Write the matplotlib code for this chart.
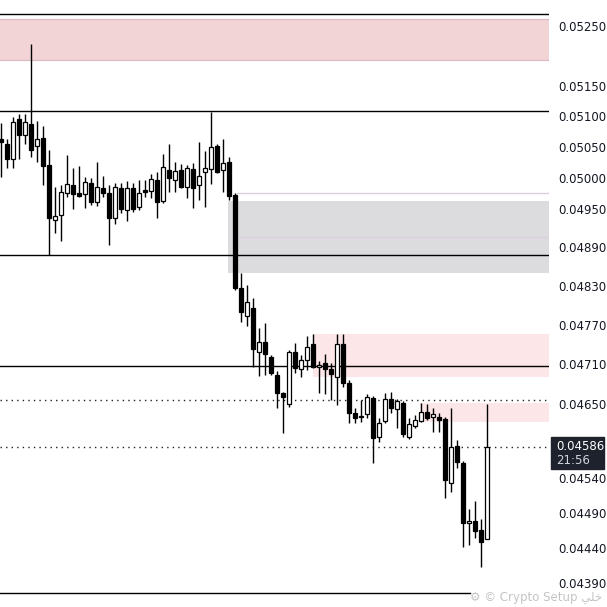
import numpy as np
import matplotlib
matplotlib.use('Agg')
import matplotlib.pyplot as plt
from matplotlib.patches import Rectangle
from matplotlib.ticker import FixedLocator, NullLocator, FormatStrFormatter, NullFormatter

# candles (open, high, low, close)
opens = [0.05063, 0.05055, 0.05030, 0.05096, 0.05070, 0.05087, 0.05052, 0.05065, 0.05021, 0.04933,
         0.04941, 0.04976, 0.04989, 0.04976, 0.04974, 0.04992, 0.04962, 0.04984, 0.04976, 0.04936,
         0.04984, 0.04949, 0.04984, 0.04954, 0.04981, 0.04979, 0.04997, 0.04963, 0.05013, 0.04997,
         0.05013, 0.04986, 0.05014, 0.04989, 0.05010, 0.05014, 0.05052, 0.05013, 0.05026, 0.04973,
         0.04826, 0.04783, 0.04795, 0.04728, 0.04743, 0.04721, 0.04693, 0.04666, 0.04650, 0.04728,
         0.04702, 0.04716, 0.04740, 0.04706, 0.04712, 0.04702, 0.04690, 0.04740, 0.04681, 0.04636,
         0.04631, 0.04635, 0.04659, 0.04601, 0.04625, 0.04657, 0.04642, 0.04651, 0.04601, 0.04617,
         0.04625, 0.04638, 0.04631, 0.04631, 0.04628, 0.04533, 0.04588, 0.04563, 0.04476, 0.04478,
         0.04466, 0.04453]
highs = [0.05089, 0.05063, 0.05099, 0.05104, 0.05104, 0.05220, 0.05092, 0.05084, 0.05045, 0.04986,
         0.04989, 0.05037, 0.05016, 0.05019, 0.05002, 0.05000, 0.05026, 0.05003, 0.04989, 0.04992,
         0.04992, 0.04995, 0.04992, 0.04997, 0.04997, 0.05006, 0.05010, 0.05039, 0.05055, 0.05026,
         0.05022, 0.05021, 0.05024, 0.05058, 0.05043, 0.05107, 0.05055, 0.05063, 0.05034, 0.04976,
         0.04850, 0.04831, 0.04811, 0.04765, 0.04772, 0.04724, 0.04699, 0.04668, 0.04731, 0.04742,
         0.04724, 0.04753, 0.04756, 0.04715, 0.04725, 0.04712, 0.04756, 0.04756, 0.04686, 0.04644,
         0.04656, 0.04665, 0.04662, 0.04629, 0.04666, 0.04668, 0.04657, 0.04654, 0.04629, 0.04634,
         0.04651, 0.04650, 0.04644, 0.04636, 0.04631, 0.04644, 0.04596, 0.04566, 0.04496, 0.04507,
         0.04481, 0.04650]
lows = [0.05002, 0.05016, 0.05016, 0.05030, 0.05055, 0.05034, 0.05026, 0.04989, 0.04878, 0.04912,
        0.04900, 0.04970, 0.04950, 0.04970, 0.04952, 0.04957, 0.04955, 0.04970, 0.04893, 0.04927,
        0.04944, 0.04931, 0.04946, 0.04949, 0.04970, 0.04968, 0.04936, 0.04960, 0.04978, 0.04978,
        0.04984, 0.04968, 0.04952, 0.04965, 0.04954, 0.04990, 0.05008, 0.04978, 0.04965, 0.04823,
        0.04774, 0.04768, 0.04706, 0.04692, 0.04693, 0.04693, 0.04644, 0.04607, 0.04645, 0.04696,
        0.04690, 0.04701, 0.04704, 0.04666, 0.04665, 0.04656, 0.04648, 0.04675, 0.04622, 0.04622,
        0.04623, 0.04629, 0.04563, 0.04593, 0.04622, 0.04636, 0.04614, 0.04601, 0.04598, 0.04614,
        0.04623, 0.04626, 0.04608, 0.04608, 0.04512, 0.04520, 0.04555, 0.04441, 0.04444, 0.04454,
        0.04413, 0.04453]
closes = [0.05058, 0.05030, 0.05091, 0.05070, 0.05091, 0.05045, 0.05063, 0.05019, 0.04936, 0.04939,
          0.04978, 0.04990, 0.04974, 0.04971, 0.04994, 0.04962, 0.04986, 0.04976, 0.04936, 0.04986,
          0.04950, 0.04984, 0.04950, 0.04976, 0.04978, 0.04998, 0.04962, 0.05018, 0.05000, 0.05011,
          0.04986, 0.05016, 0.04984, 0.05003, 0.05016, 0.05050, 0.05010, 0.05024, 0.04971, 0.04826,
          0.04789, 0.04805, 0.04733, 0.04743, 0.04725, 0.04696, 0.04666, 0.04660, 0.04728, 0.04704,
          0.04716, 0.04736, 0.04706, 0.04709, 0.04702, 0.04695, 0.04740, 0.04681, 0.04636, 0.04629,
          0.04632, 0.04660, 0.04599, 0.04622, 0.04657, 0.04644, 0.04654, 0.04605, 0.04620, 0.04626,
          0.04638, 0.04629, 0.04635, 0.04626, 0.04538, 0.04586, 0.04564, 0.04476, 0.04478, 0.04464,
          0.04448, 0.04586]

tick_values = [0.05250, 0.05150, 0.05100, 0.05050, 0.05000, 0.04950, 0.04890, 0.04830,
               0.04770, 0.04710, 0.04650, 0.04540, 0.04490, 0.04440, 0.04390]
last_price = 0.04586
countdown = '21:56'

# levels and zones
solid_levels = [0.05270, 0.05109, 0.04878, 0.04707]
bottom_level = 0.04376
dotted_levels = [0.04656, 0.04586]
supply_top = (0.05193, 0.05262)
gray_zone = (37.85, 0.04850, 0.04963)
gray_lines = [(39.35, 0.04976), (39.35, 0.04906)]
pink_zones = [(52.0, 0.04690, 0.04756), (69.85, 0.04623, 0.04651)]

o = np.array(opens); h = np.array(highs); l = np.array(lows); c = np.array(closes)
idx = np.arange(len(o))
up = c >= o

W, H = 607, 607
fig = plt.figure(figsize=(W / 100, H / 100), dpi=100)
ax = fig.add_axes([0, 0, 549 / W, 1])
ax.set_yscale('log')
x0, x1 = -0.15, 91.35
ax.set_xlim(x0, x1)
ax.set_ylim(0.043563, 0.052940)

# zones
ax.axhspan(supply_top[0], supply_top[1], color='#f2d4d7', lw=0, zorder=0)
for yv in supply_top:
    ax.axhline(yv, color='#d9b9bd', lw=0.8, zorder=0.5)
ax.fill_between([gray_zone[0], x1], gray_zone[1], gray_zone[2], color='#dcdcde', lw=0, zorder=0)
for xs, yv in gray_lines:
    ax.plot([xs, x1], [yv, yv], color='#dccfe0', lw=1, zorder=0.5)
for xs, lo, hi in pink_zones:
    ax.fill_between([xs, x1], lo, hi, color='#fde6e7', lw=0, zorder=0)

for yv in solid_levels:
    ax.axhline(yv, color='black', lw=1, zorder=1)
ax.axhline(bottom_level, xmax=470 / 549, color='black', lw=1, zorder=1)
for yv in dotted_levels:
    ax.axhline(yv, color='#222222', lw=1, ls=(0, (1, 3)), zorder=1)

# candles
ax.vlines(idx, l, h, color='black', lw=1, zorder=2)
ax.bar(idx, np.abs(c - o), bottom=np.minimum(o, c), width=0.72,
       color=np.where(up, 'white', 'black'), edgecolor='black', linewidth=0.9, zorder=3)

for s in ax.spines.values():
    s.set_visible(False)
ax.set_xticks([])
ax.yaxis.tick_right()
ax.yaxis.set_major_locator(FixedLocator(tick_values))
ax.yaxis.set_major_formatter(FormatStrFormatter('%.5f'))
ax.yaxis.set_minor_locator(NullLocator())
ax.yaxis.set_minor_formatter(NullFormatter())
ax.tick_params(axis='y', length=0, pad=7, labelsize=8.5, labelcolor='#131722')

# last price tag
fig.patches.append(Rectangle((551 / W, 1 - 469 / H), 53 / W, 32 / H,
                             transform=fig.transFigure, color='#1e222d', zorder=5))
fig.text(556 / W, 1 - 447 / H, f'{last_price:.5f}', color='white', fontsize=8.5,
         va='center', ha='left', zorder=6)
fig.text(556 / W, 1 - 461 / H, countdown, color='#d1d4dc', fontsize=8.5,
         va='center', ha='left', zorder=6)

# watermark
fig.text(602 / W, 1 - 598 / H, '⚙ © Crypto Setup ﻲﻠﺧ', color='#c4c4c4', fontsize=8.5,
         va='center', ha='right', zorder=4, family=['DejaVu Sans'])

fig.savefig('out.png', dpi=100)
